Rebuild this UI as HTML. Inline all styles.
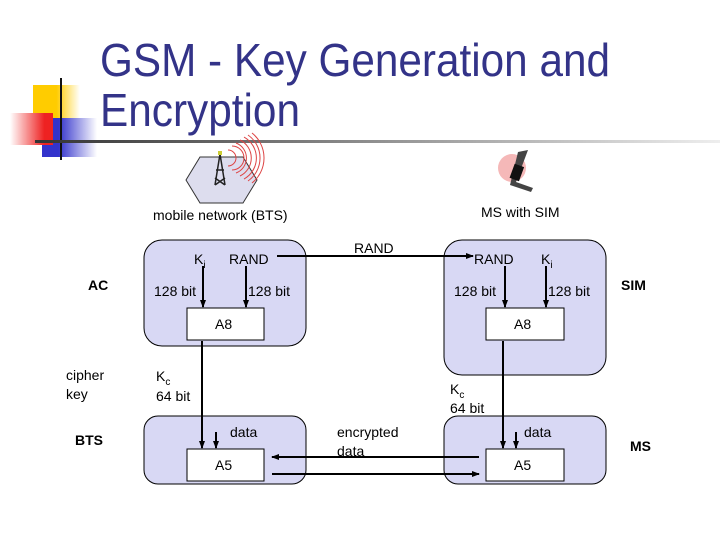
<!DOCTYPE html>
<html><head><meta charset="utf-8"><style>
html,body{margin:0;padding:0;background:#fff;}
svg{display:block;font-family:"Liberation Sans",sans-serif;}
</style></head><body>
<svg width="720" height="540" viewBox="0 0 720 540" xmlns="http://www.w3.org/2000/svg">
<defs>
<linearGradient id="hl" x1="0" x2="1" y1="0" y2="0"><stop offset="0" stop-color="#333"/><stop offset="1" stop-color="#eee"/></linearGradient>
<linearGradient id="yl" x1="0" x2="1"><stop offset="0.5" stop-color="#fc0"/><stop offset="1" stop-color="#fff"/></linearGradient>
<linearGradient id="rd" x1="1" x2="0"><stop offset="0.2" stop-color="#e22"/><stop offset="1" stop-color="#fff"/></linearGradient>
<linearGradient id="bl" x1="0" x2="1"><stop offset="0.3" stop-color="#33c"/><stop offset="1" stop-color="#fff"/></linearGradient>
<marker id="ah" markerWidth="8" markerHeight="8" refX="7" refY="4" orient="auto" markerUnits="userSpaceOnUse"><path d="M0,1 L8,4 L0,7 z" fill="#000"/></marker>
</defs>
<rect x="33" y="85" width="47" height="35" fill="url(#yl)"/>
<rect x="42" y="118" width="55" height="39" fill="url(#bl)"/>
<rect x="10" y="113" width="43" height="32" fill="url(#rd)"/>
<line x1="61" y1="78" x2="61" y2="160" stroke="#111" stroke-width="2"/>
<rect x="35" y="140" width="685" height="3" fill="url(#hl)"/>
<text x="100" y="76" font-size="46" fill="#333388" textLength="510" lengthAdjust="spacingAndGlyphs">GSM - Key Generation and</text>
<text x="100" y="126" font-size="46" fill="#333388" textLength="200" lengthAdjust="spacingAndGlyphs">Encryption</text>
<!-- tower -->
<polygon points="200,157 243,157 257,180 243,203 200,203 186,180" fill="#dde" stroke="#333"/>
<g fill="none" stroke="#d44" stroke-width="1">
<path d="M228,150 a8,8 0 0 1 0,16"/><path d="M232,146 a12,12 0 0 1 0,24"/><path d="M236,143 a16,16 0 0 1 0,30"/><path d="M240,140 a20,20 0 0 1 0,36"/><path d="M244,137 a24,24 0 0 1 0,42"/><path d="M248,135 a28,28 0 0 1 0,46"/><path d="M252,133 a32,32 0 0 1 0,50"/>
</g>
<path d="M220,154 L215,185 M220,154 L225,185 M216,170 L224,170 M215,178 L225,185 M225,178 L215,185" stroke="#222" stroke-width="1.5" fill="none"/>
<rect x="218" y="151" width="4" height="4" fill="#cc3"/>
<text x="153" y="220" font-size="14" fill="#000">mobile network (BTS)</text>
<!-- phone -->
<ellipse cx="512" cy="168" rx="14" ry="14" fill="#f5b8b8"/>
<path d="M518,152 L528,150 L516,182 L533,188 L531,192 L510,185 Z" fill="#444"/>
<rect x="512" y="165" width="10" height="15" fill="#111" transform="rotate(20 517 172)"/>
<text x="481" y="217" font-size="14">MS with SIM</text>
<!-- boxes -->
<rect x="144" y="240" width="162" height="106" rx="18" fill="#d8d8f4" stroke="#000"/>
<rect x="444" y="240" width="162" height="135" rx="18" fill="#d8d8f4" stroke="#000"/>
<rect x="144" y="416" width="162" height="68" rx="14" fill="#d8d8f4" stroke="#000"/>
<rect x="444" y="416" width="162" height="68" rx="14" fill="#d8d8f4" stroke="#000"/>
<rect x="187" y="308" width="77" height="32" fill="#fff" stroke="#000"/>
<rect x="486" y="308" width="78" height="32" fill="#fff" stroke="#000"/>
<rect x="187" y="449" width="77" height="32" fill="#fff" stroke="#000"/>
<rect x="486" y="449" width="78" height="32" fill="#fff" stroke="#000"/>
<g font-size="14" fill="#000">
<text x="215" y="329">A8</text><text x="514" y="329">A8</text>
<text x="215" y="470">A5</text><text x="514" y="470">A5</text>
<text x="194" y="264">K<tspan font-size="10" dy="4">i</tspan></text>
<text x="229" y="264">RAND</text>
<text x="154" y="296">128 bit</text><text x="248" y="296">128 bit</text>
<text x="354" y="253">RAND</text>
<text x="474" y="264">RAND</text>
<text x="541" y="264">K<tspan font-size="10" dy="4">i</tspan></text>
<text x="454" y="296">128 bit</text><text x="548" y="296">128 bit</text>
<text x="156" y="381">K<tspan font-size="10" dy="4">c</tspan></text>
<text x="156" y="401">64 bit</text>
<text x="450" y="394">K<tspan font-size="10" dy="4">c</tspan></text>
<text x="450" y="413">64 bit</text>
<text x="230" y="437">data</text><text x="524" y="437">data</text>
<text x="337" y="437">encrypted</text><text x="337" y="456">data</text>
<text x="66" y="380">cipher</text><text x="66" y="399">key</text>
<text x="88" y="290" font-weight="bold">AC</text>
<text x="75" y="445" font-weight="bold">BTS</text>
<text x="621" y="290" font-weight="bold">SIM</text>
<text x="630" y="451" font-weight="bold">MS</text>
</g>
<g stroke="#000" stroke-width="2" fill="none" marker-end="url(#ah)">
<line x1="203" y1="266" x2="203" y2="307"/>
<line x1="246" y1="266" x2="246" y2="307"/>
<line x1="505" y1="266" x2="505" y2="307"/>
<line x1="546" y1="266" x2="546" y2="307"/>
<line x1="277" y1="256" x2="473" y2="256"/>
<line x1="202" y1="341" x2="202" y2="448"/>
<line x1="216" y1="432" x2="216" y2="448"/>
<line x1="503" y1="341" x2="503" y2="448"/>
<line x1="516" y1="432" x2="516" y2="448"/>
<line x1="479" y1="457" x2="272" y2="457"/>
<line x1="272" y1="474" x2="479" y2="474"/>
</g>
</svg>
</body></html>
